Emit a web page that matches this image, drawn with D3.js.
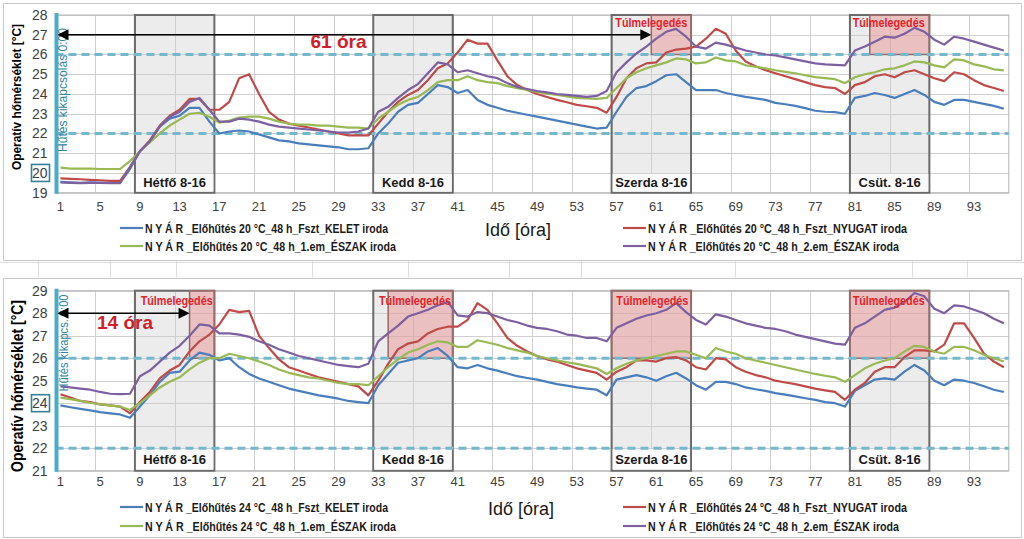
<!DOCTYPE html>
<html><head><meta charset="utf-8">
<script src="https://cdn.jsdelivr.net/npm/d3@7"></script>
<style>html,body{margin:0;padding:0;background:#fff;} svg{display:block;}</style>
</head><body><svg id="c" width="1024" height="539"></svg>
<script>
// ---------------- DATA ----------------
const hours = d3.range(1, 97);
const xTickLabels = [1,5,9,13,17,21,25,29,33,37,41,45,49,53,57,61,65,69,73,77,81,85,89,93];
const yTicksTop = [19,20,21,22,23,24,25,26,27,28];
const yTicksBottom = [21,22,23,24,25,26,27,28,29];
const comfortLimits = [22, 26];
const workDayLabels = ["Hétfő 8-16", "Kedd 8-16", "Szerda 8-16", "Csüt. 8-16"];
const workDayHours = [[8,16],[32,40],[56,64],[80,88]];
const overheatTop = [[60,64],[82,88]];
const overheatBottom = [[13.5,16],[33.5,40],[56,64],[80,88]];
const overheatText = "Túlmelegedés";

const legendTop = [
  "N Y Á R _Előhűtés 20 °C_48 h_Fszt_KELET iroda",
  "N Y Á R _Előhűtés 20 °C_48 h_Fszt_NYUGAT iroda",
  "N Y Á R _Előhűtés 20 °C_48 h_1.em_ÉSZAK iroda",
  "N Y Á R _Előhűtés 20 °C_48 h_2.em_ÉSZAK iroda"];
const legendBottom = [
  "N Y Á R _Előhűtés 24 °C_48 h_Fszt_KELET iroda",
  "N Y Á R _Előhűtés 24 °C_48 h_Fszt_NYUGAT iroda",
  "N Y Á R _Előhűtés 24 °C_48 h_1.em_ÉSZAK iroda",
  "N Y Á R _Előhűtés 24 °C_48 h_2.em_ÉSZAK iroda"];

const top_kelet = [19.55,19.52,19.5,19.52,19.5,19.5,19.5,20.2,21.1,21.6,22.35,22.75,22.9,23.3,23.3,22.6,22.0,22.1,22.15,22.1,21.95,21.8,21.65,21.6,21.5,21.45,21.4,21.35,21.3,21.2,21.2,21.25,22.0,22.5,23.1,23.45,23.55,24.0,24.45,24.35,24.05,24.2,23.7,23.45,23.3,23.15,23.05,22.95,22.85,22.75,22.65,22.55,22.45,22.35,22.25,22.3,23.1,23.85,24.3,24.4,24.65,24.95,25.0,24.6,24.2,24.2,24.2,24.05,23.95,23.85,23.78,23.7,23.55,23.48,23.4,23.28,23.15,23.1,23.08,23.0,23.8,23.9,24.05,23.95,23.8,24.0,24.2,23.95,23.6,23.45,23.7,23.7,23.6,23.5,23.4,23.25];
const top_nyugat = [19.73,19.7,19.68,19.65,19.63,19.6,19.6,20.3,21.1,21.65,22.4,22.9,23.2,23.75,23.75,23.2,23.2,23.6,24.8,25.0,24.0,23.1,22.7,22.5,22.4,22.3,22.2,22.1,22.0,21.9,21.9,21.9,22.5,23.1,23.6,23.95,24.2,24.7,25.3,25.55,26.1,26.75,26.55,26.55,25.7,24.9,24.45,24.2,24.0,23.85,23.7,23.58,23.45,23.38,23.3,23.05,23.85,24.8,25.3,25.55,25.6,26.1,26.25,26.3,26.4,26.8,27.3,27.05,26.2,25.65,25.4,25.2,25.05,24.9,24.75,24.6,24.45,24.35,24.3,24.0,24.45,24.6,24.9,25.0,24.85,25.1,25.2,25.0,24.8,24.65,25.1,25.0,24.7,24.45,24.3,24.15];
const top_1em = [20.27,20.22,20.22,20.22,20.2,20.2,20.2,20.6,21.1,21.55,22.0,22.4,22.7,23.0,23.05,22.85,22.55,22.65,22.8,22.85,22.85,22.75,22.6,22.5,22.45,22.45,22.4,22.4,22.35,22.3,22.3,22.25,22.75,23.1,23.45,23.7,23.85,24.2,24.6,24.7,24.7,24.9,24.7,24.6,24.55,24.4,24.3,24.2,24.1,24.02,23.95,23.88,23.8,23.78,23.75,23.8,24.3,24.8,25.1,25.3,25.45,25.6,25.8,25.75,25.55,25.6,25.85,25.7,25.65,25.45,25.38,25.3,25.2,25.12,25.05,24.95,24.85,24.8,24.75,24.55,24.85,25.0,25.1,25.25,25.3,25.45,25.65,25.6,25.45,25.35,25.75,25.7,25.5,25.4,25.25,25.2];
const top_2em = [19.52,19.5,19.48,19.5,19.5,19.48,19.48,20.3,21.1,21.6,22.35,22.85,23.1,23.6,23.8,23.2,22.6,22.6,22.75,22.7,22.6,22.45,22.35,22.3,22.25,22.2,22.15,22.1,22.05,22.05,22.1,22.25,23.1,23.35,23.8,24.2,24.5,25.05,25.6,25.5,25.1,25.2,25.05,24.9,24.8,24.55,24.35,24.25,24.15,24.08,24.0,23.95,23.9,23.85,23.9,24.15,25.1,25.6,26.05,26.4,26.8,27.15,27.3,26.9,26.4,26.3,26.6,26.5,26.35,26.2,26.1,26.0,25.95,25.85,25.75,25.65,25.55,25.5,25.47,25.45,26.2,26.4,26.65,26.9,26.85,27.05,27.35,27.15,26.75,26.5,26.9,26.8,26.65,26.5,26.35,26.2];

const bot_kelet = [23.9,23.82,23.75,23.68,23.6,23.55,23.5,23.35,23.85,24.35,24.95,25.35,25.4,25.9,26.25,26.15,25.9,26.0,25.6,25.3,25.1,24.95,24.8,24.65,24.55,24.45,24.35,24.28,24.2,24.1,24.05,24.0,24.8,25.3,25.8,25.9,26.0,26.3,26.45,26.1,25.6,25.55,25.7,25.55,25.45,25.32,25.2,25.12,25.05,24.95,24.85,24.78,24.7,24.65,24.6,24.35,25.05,25.15,25.25,25.15,25.0,25.2,25.35,25.1,24.8,24.6,24.95,24.95,24.85,24.7,24.62,24.55,24.45,24.38,24.3,24.22,24.15,24.05,24.0,23.85,24.55,24.8,25.05,25.1,25.05,25.4,25.7,25.45,25.0,24.8,25.05,25.0,24.9,24.75,24.6,24.5];
const bot_nyugat = [24.4,24.25,24.1,24.05,23.95,23.9,23.85,23.55,24.05,24.5,25.1,25.45,25.7,26.3,26.75,27.05,27.5,28.15,28.05,28.1,27.0,26.45,25.95,25.6,25.45,25.3,25.15,25.05,24.95,24.85,24.75,24.35,25.0,25.75,26.4,26.65,26.75,27.1,27.3,27.4,27.4,27.7,28.45,28.15,27.55,26.9,26.55,26.3,26.1,25.95,25.85,25.7,25.55,25.45,25.35,25.05,25.4,25.6,25.9,25.9,25.85,26.0,26.05,25.9,25.6,25.5,26.0,25.95,25.6,25.4,25.25,25.15,25.0,24.92,24.85,24.75,24.65,24.57,24.5,24.15,24.6,24.9,25.4,25.6,25.6,26.05,26.35,26.35,26.3,26.6,27.55,27.55,26.9,26.2,25.85,25.6];
const bot_1em = [24.25,24.18,24.1,24.02,23.95,23.9,23.85,23.7,24.0,24.35,24.7,24.95,25.15,25.5,25.8,26.0,26.0,26.2,26.1,26.0,25.85,25.7,25.5,25.35,25.25,25.15,25.1,25.0,24.9,24.85,24.85,24.8,25.2,25.6,25.95,26.25,26.4,26.6,26.75,26.7,26.5,26.5,26.8,26.7,26.6,26.45,26.35,26.25,26.1,26.0,25.9,25.82,25.75,25.65,25.55,25.3,25.55,25.75,25.9,26.0,26.1,26.2,26.3,26.3,26.15,26.0,26.45,26.3,26.2,26.0,25.9,25.8,25.7,25.6,25.5,25.4,25.3,25.22,25.15,24.95,25.25,25.55,25.75,25.9,26.0,26.3,26.55,26.5,26.3,26.2,26.5,26.5,26.35,26.15,26.0,25.85];
const bot_2em = [24.75,24.7,24.65,24.6,24.5,24.42,24.4,24.42,25.2,25.45,25.85,26.25,26.55,27.0,27.5,27.45,27.1,27.1,27.05,26.95,26.75,26.6,26.4,26.25,26.1,26.0,25.9,25.8,25.7,25.65,25.6,25.75,26.75,27.1,27.45,27.85,28.0,28.15,28.35,28.5,27.9,27.85,28.05,28.0,27.85,27.7,27.6,27.45,27.35,27.3,27.2,27.05,27.0,26.9,26.9,26.75,27.35,27.55,27.75,27.9,28.0,28.15,28.45,28.05,27.7,27.5,27.95,27.85,27.7,27.55,27.45,27.35,27.3,27.2,27.05,26.95,26.85,26.75,26.65,26.6,27.35,27.55,27.85,28.15,28.25,28.5,28.9,28.75,28.2,28.0,28.35,28.3,28.15,28.0,27.75,27.55];

// ---------------- STYLE / LAYOUT ----------------
const colors = ["#4a7ebb", "#be4b48", "#98b954", "#7d60a0"];
const FONT = "'Liberation Sans Narrow','Liberation Sans',Arial,sans-serif";
const svg = d3.select("#c");

// faint spreadsheet background lines
const bg = svg.append("g").attr("stroke", "#dcdcdc").attr("stroke-width", 1);
bg.append("line").attr("x1",0).attr("x2",1024).attr("y1",262.5).attr("y2",262.5);
[38, 110, 176, 312, 408, 509, 581, 735, 912, 967].forEach(x =>
  bg.append("line").attr("x1",x+0.5).attr("x2",x+0.5).attr("y1",261).attr("y2",277));

const X0 = 55.5, X1 = 1008.8;

function drawPanel(cfg) {
  const g = svg.append("g");
  // chart frame
  g.append("rect").attr("x", cfg.frame[0]+0.5).attr("y", cfg.frame[1]+0.5)
    .attr("width", cfg.frame[2]-cfg.frame[0]).attr("height", cfg.frame[3]-cfg.frame[1])
    .attr("fill", "#fff").attr("stroke", "#c8c8c8");

  const x = d3.scaleBand().domain(hours).range([X0, X1]).padding(0);
  const xb = d3.scaleLinear().domain([0, 96]).range([X0, X1]);
  const y = d3.scaleLinear().domain(cfg.yDomain).range([cfg.yBottom, cfg.yTop]);
  const cx = h => x(h) + x.bandwidth() / 2;

  // gridlines
  const grid = g.append("g").attr("stroke", "#cfcfcf").attr("stroke-width", 1);
  cfg.yTicks.forEach(t => grid.append("line").attr("x1", X0).attr("x2", X1)
    .attr("y1", Math.round(y(t))+0.5).attr("y2", Math.round(y(t))+0.5));
  xTickLabels.forEach(t => grid.append("line").attr("x1", Math.round(x(t))+0.5).attr("x2", Math.round(x(t))+0.5)
    .attr("y1", cfg.yTop).attr("y2", cfg.yBottom));
  g.append("rect").attr("x", X0).attr("y", cfg.yTop).attr("width", X1-X0).attr("height", cfg.yBottom-cfg.yTop)
    .attr("fill", "none").attr("stroke", "#b4b4b4");

  // work-hour bands
  workDayHours.forEach((d, i) => {
    g.append("rect").attr("x", xb(d[0])).attr("y", cfg.yTop).attr("width", xb(d[1]) - xb(d[0]))
      .attr("height", cfg.yBottom - cfg.yTop)
      .attr("fill", "#cfcfcf").attr("fill-opacity", 0.4).attr("stroke", "#6b6b6b").attr("stroke-width", 2);
    const lbTop = y(cfg.yDomain[0] + 1);
    g.append("rect").attr("x", xb(d[0]) + 1).attr("y", lbTop + 1).attr("width", xb(d[1]) - xb(d[0]) - 2)
      .attr("height", cfg.yBottom - lbTop - 2).attr("fill", "#fafafa");
    g.append("text").attr("x", (xb(d[0]) + xb(d[1])) / 2).attr("y", (lbTop + cfg.yBottom) / 2 + 4.5)
      .attr("text-anchor", "middle").attr("font-family", FONT).attr("font-weight", "bold")
      .attr("font-size", 13).attr("fill", "#1a1a1a").text(workDayLabels[i]);
  });

  // overheat boxes
  cfg.overheat.forEach(d => {
    g.append("rect").attr("x", xb(d[0])).attr("y", cfg.yTop).attr("width", xb(d[1]) - xb(d[0]))
      .attr("height", y(26) - cfg.yTop).attr("fill", "#e88c8c").attr("fill-opacity", 0.45)
      .attr("stroke", "#9a6a6a").attr("stroke-width", 1.5);
  });

  // comfort limits (dashed)
  comfortLimits.forEach(v => g.append("line").attr("x1", X0).attr("x2", X1)
    .attr("y1", y(v)).attr("y2", y(v)).attr("stroke", "#74b8cb").attr("stroke-width", 3)
    .attr("stroke-dasharray", "8,5"));

  // series lines
  const line = d3.line().x((d, i) => cx(hours[i])).y(d => y(d));
  cfg.series.forEach((s, i) => g.append("path").datum(s).attr("d", line)
    .attr("fill", "none").attr("stroke", colors[i]).attr("stroke-width", 2.2)
    .attr("stroke-linejoin", "round"));

  // teal y-axis line
  g.append("line").attr("x1", X0+1).attr("x2", X0+1).attr("y1", cfg.yTop - 2).attr("y2", cfg.yBottom + 1)
    .attr("stroke", "#4bacc6").attr("stroke-width", 4);

  // axes
  const ax = g.append("g").attr("transform", `translate(0,${cfg.yBottom})`)
    .call(d3.axisBottom(x).tickValues(xTickLabels).tickSize(0).tickPadding(cfg.xPad));
  ax.select(".domain").remove();
  ax.selectAll("text").attr("font-family", FONT).attr("font-size", 13).attr("fill", "#404040");
  const ay = g.append("g").attr("transform", `translate(${X0},0)`)
    .call(d3.axisLeft(y).tickValues(cfg.yTicks).tickSize(0).tickPadding(8).tickFormat(d3.format("d")));
  ay.select(".domain").remove();
  ay.selectAll("text").attr("font-family", FONT).attr("font-size", 14).attr("fill", "#404040");
  // boxed tick
  g.append("rect").attr("x", 31.5).attr("y", y(cfg.boxed) - 8.5).attr("width", 18).attr("height", 17)
    .attr("fill", "none").attr("stroke", "#31849b").attr("stroke-width", 1.6);

  // y title
  g.append("text").attr("transform", `translate(${cfg.yTitle[0]},${cfg.yTitle[1]}) rotate(-90)`)
    .attr("text-anchor", "middle").attr("font-family", FONT).attr("font-weight", "bold")
    .attr("font-size", cfg.yTitleSize).attr("textLength", cfg.yTitleLen).attr("lengthAdjust", "spacingAndGlyphs")
    .attr("fill", "#000").text("Operatív hőmérséklet [°C]");
  // cooling off text
  g.append("text").attr("transform", `translate(${cfg.coolText[0]},${cfg.coolText[1]}) rotate(-90)`)
    .attr("text-anchor", "middle").attr("font-family", FONT).attr("font-size", 13)
    .attr("textLength", cfg.coolLen).attr("lengthAdjust", "spacingAndGlyphs")
    .attr("fill", "#31849b").text(cfg.coolLabel);

  // x title
  g.append("text").attr("x", cfg.xTitle[0]).attr("y", cfg.xTitle[1]).attr("text-anchor", "middle")
    .attr("font-family", FONT).attr("font-size", 18).attr("fill", "#1a1a1a").text("Idő [óra]");

  // legend
  const legX = [[120, 145], [623, 648]];
  const legW = [243, 259, 251, 251];
  cfg.legend.forEach((t, i) => {
    const col = i % 2, row = Math.floor(i / 2);
    const ly = cfg.legendY[row];
    g.append("line").attr("x1", legX[col][0]).attr("x2", legX[col][1] - 2).attr("y1", ly).attr("y2", ly)
      .attr("stroke", colors[i]).attr("stroke-width", 2.2);
    g.append("text").attr("x", legX[col][1]).attr("y", ly + 4.5).attr("font-family", FONT)
      .attr("font-weight", "bold").attr("font-size", 12.5).attr("fill", "#1a1a1a")
      .attr("textLength", legW[i]).attr("lengthAdjust", "spacingAndGlyphs").text(t);
  });

  // arrow annotation
  const ay0 = y(cfg.arrow.v);
  const axL = X0 + 2, axR = xb(cfg.arrow.to);
  g.append("line").attr("x1", axL + 8).attr("x2", axR - 8).attr("y1", ay0).attr("y2", ay0)
    .attr("stroke", "#000").attr("stroke-width", 1.6);
  g.append("path").attr("d", `M${axL},${ay0} l11,-5.5 l0,11 z`).attr("fill", "#000");
  g.append("path").attr("d", `M${axR},${ay0} l-11,-5.5 l0,11 z`).attr("fill", "#000");
  g.append("text").attr("x", xb(cfg.arrow.textH)).attr("y", y(cfg.arrow.textV)).attr("text-anchor", "middle")
    .attr("font-family", FONT).attr("font-weight", "bold").attr("font-size", 19).attr("fill", "#d0202a")
    .text(cfg.arrow.label);

  // overheat labels
  cfg.overheatLabelH.forEach(h => g.append("text").attr("x", xb(h)).attr("y", y(cfg.overheatLabelV))
    .attr("text-anchor", "middle").attr("font-family", FONT).attr("font-weight", "bold")
    .attr("font-size", 12).attr("textLength", 72).attr("lengthAdjust", "spacingAndGlyphs")
    .attr("fill", "#e0242c").text(overheatText));
}

drawPanel({
  frame: [3, 3, 1021, 260], yDomain: [19, 28], yTop: 15, yBottom: 192.7, yTicks: yTicksTop, boxed: 20,
  xPad: 9, series: [top_kelet, top_nyugat, top_1em, top_2em], legend: legendTop, legendY: [228, 246],
  overheat: overheatTop, yTitle: [21, 97], yTitleSize: 12.5, yTitleLen: 146,
  coolText: [67, 90], coolLen: 124, coolLabel: "Hűtés kikapcsolás 0:00",
  xTitle: [518, 236],
  arrow: { v: 27, to: 60, label: "61 óra", textH: 28.5, textV: 26.33 },
  overheatLabelH: [60.0, 83.9], overheatLabelV: 27.4
});
drawPanel({
  frame: [3, 278, 1021, 537], yDomain: [21, 29], yTop: 290.7, yBottom: 470.7, yTicks: yTicksBottom, boxed: 24,
  xPad: 6, series: [bot_kelet, bot_nyugat, bot_1em, bot_2em], legend: legendBottom, legendY: [507, 526],
  overheat: overheatBottom, yTitle: [23, 386], yTitleSize: 16, yTitleLen: 172,
  coolText: [68, 343], coolLen: 97, coolLabel: "Hűtés kikapcs. 0:00",
  xTitle: [521, 515],
  arrow: { v: 28, to: 13.5, label: "14 óra", textH: 7.0, textV: 27.3 },
  overheatLabelH: [12.2, 36.2, 60.1, 83.9], overheatLabelV: 28.36
});
</script>
</body></html>
